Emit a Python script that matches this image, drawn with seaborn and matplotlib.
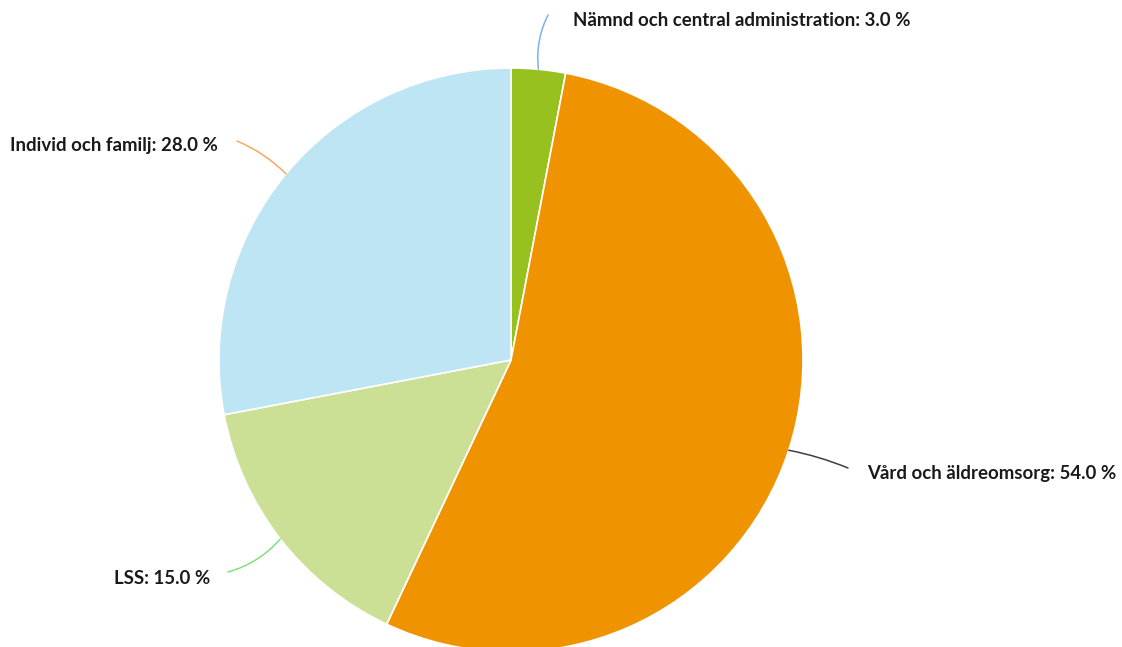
import numpy as np
import matplotlib
matplotlib.use('Agg')
import matplotlib.pyplot as plt
import seaborn as sns

#### Dados ####
categorias = ['Nämnd och central administration', 'Vård och äldreomsorg', 'LSS', 'Individ och familj']
andelar = [3.0, 54.0, 15.0, 28.0]
cores = ['#97c11f', '#f09300', '#cbe095', '#bde5f4']
cores_linha = ['#7fb2e5', '#404040', '#7ee07e', '#f5a863']

sns.set_theme(style='white')
plt.rcParams['font.family'] = ['Lato', 'DejaVu Sans']

W, H = 1122, 647
fig = plt.figure(figsize=(W / 100, H / 100), dpi=100)
ax = fig.add_axes([0, 0, 1, 1])

centro = (511, H - 360)
raio = 292
wedges, _ = ax.pie(andelar, colors=cores, startangle=90, counterclock=False,
                   center=centro, radius=raio, frame=True,
                   wedgeprops=dict(edgecolor='white', linewidth=1.2))
ax.set_xlim(0, W)
ax.set_ylim(0, H)
ax.axis('off')

#### Rótulos com linhas de chamada ####
# (fim da linha, posição do texto, alinhamento, curvatura)
layout = [
    ((548, H - 15), (573, H - 20), 'left', 0.15),
    ((848, H - 468), (867, H - 473), 'left', 0.05),
    ((228, H - 572), (210, H - 578), 'right', 0.15),
    ((237, H - 141), (218, H - 146), 'right', -0.1),
]

for w, cat, val, cl, (fim, pos_txt, ha, rad) in zip(wedges, categorias, andelar, cores_linha, layout):
    ang = np.deg2rad((w.theta1 + w.theta2) / 2)
    ancora = (centro[0] + raio * np.cos(ang), centro[1] + raio * np.sin(ang))
    ax.annotate('', xy=ancora, xytext=fim,
                arrowprops=dict(arrowstyle='-', color=cl, lw=1.1,
                                connectionstyle=f'arc3,rad={rad}',
                                shrinkA=0, shrinkB=0))
    ax.text(pos_txt[0], pos_txt[1], f'{cat}: {val:.1f} %', ha=ha, va='center',
            fontsize=13.4, fontweight='bold', color='#1a1a1a')

fig.savefig('out.png', dpi=100)
